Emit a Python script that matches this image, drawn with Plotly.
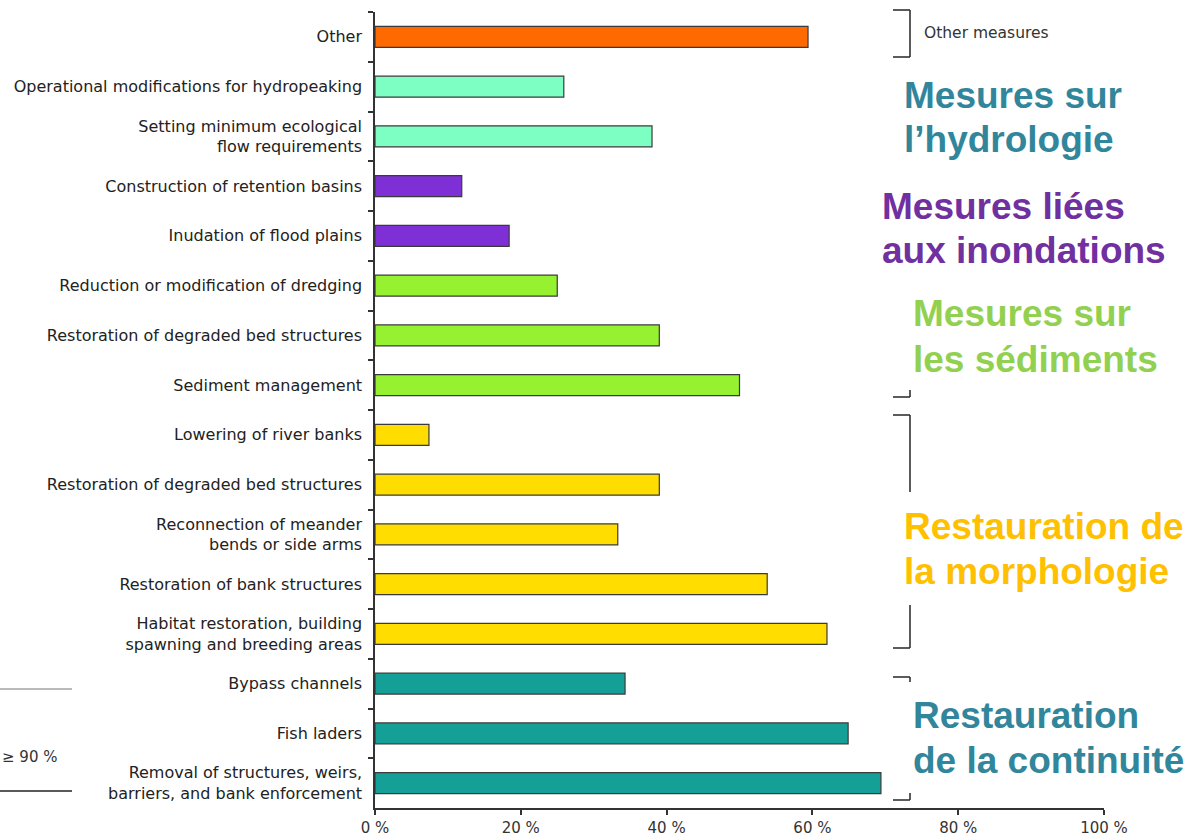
import plotly.graph_objects as go

# ---------------- data ----------------
categories = [
    "Other",
    "Operational modifications for hydropeaking",
    "Setting minimum ecological<br>flow requirements",
    "Construction of retention basins",
    "Inudation of flood plains",
    "Reduction or modification of dredging",
    "Restoration of degraded bed structures",
    "Sediment management",
    "Lowering of river banks",
    "Restoration of degraded bed structures\u200b",
    "Reconnection of meander<br>bends or side arms",
    "Restoration of bank structures",
    "Habitat restoration, building<br>spawning and breeding areas",
    "Bypass channels",
    "Fish laders",
    "Removal of structures, weirs,<br>barriers, and bank enforcement",
]
values = [59.4, 25.9, 38.0, 11.9, 18.4, 25.0, 39.0, 50.0, 7.4, 39.0, 33.3, 53.8, 62.0, 34.3, 64.9, 69.4]
groups = ["other", "hydro", "hydro", "flood", "flood", "sed", "sed", "sed",
          "morph", "morph", "morph", "morph", "morph", "cont", "cont", "cont"]
group_colors = {
    "other": "#FF6A00",
    "hydro": "#7DFFC3",
    "flood": "#7F2FD6",
    "sed": "#96F230",
    "morph": "#FFDD00",
    "cont": "#15A097",
}
x_tickvals = [0, 20, 40, 60, 80, 100]
x_ticktext = ["0 %", "20 %", "40 %", "60 %", "80 %", "100 %"]

# (line text, colour, left pixel, cap-centre pixel)
group_label_lines = [
    ("Mesures sur", "#31869B", 902, 95),
    ("l\u2019hydrologie", "#31869B", 902, 139),
    ("Mesures liées", "#7030A0", 880, 206),
    ("aux inondations", "#7030A0", 880, 250),
    ("Mesures sur", "#92D050", 911, 314),
    ("les sédiments", "#92D050", 911, 359),
    ("Restauration de", "#FFC000", 902, 526),
    ("la morphologie", "#FFC000", 902, 571),
    ("Restauration", "#31869B", 911, 715),
    ("de la continuité", "#31869B", 911, 760),
]

# ---------------- layout helpers ----------------
W, H = 1200, 840
L, R, T, B = 375, 96, 12, 32
PW, PH = W - L - R, H - T - B


def px(x):
    return (x - L) / PW


def py(y):
    return 1 - (y - T) / PH


fig = go.Figure()
fig.add_trace(go.Bar(
    x=values,
    y=categories,
    orientation="h",
    width=0.42,
    marker=dict(color=[group_colors[g] for g in groups],
                line=dict(color="#3a3a3a", width=1.2)),
    showlegend=False,
    hoverinfo="x+y",
))

shapes = []


def seg(x0, y0, x1, y1, color="#333333", w=1.6):
    shapes.append(dict(type="line", xref="paper", yref="paper",
                       x0=px(x0), y0=py(y0), x1=px(x1), y1=py(y1),
                       line=dict(color=color, width=w)))


# Other measures bracket
seg(893, 10, 910, 10); seg(910, 10, 910, 57); seg(893, 57, 910, 57)
# sediments bracket bottom end
seg(910, 390, 910, 397); seg(893, 397, 910, 397)
# morphology bracket
seg(893, 415, 910, 415); seg(910, 415, 910, 492)
seg(910, 605, 910, 648); seg(893, 648, 910, 648)
# continuity bracket
seg(893, 677, 910, 677); seg(910, 677, 910, 682)
seg(910, 793, 910, 800); seg(893, 800, 910, 800)
# left legend fragment lines
seg(0, 689, 72, 689, color="#777777", w=1)
seg(0, 791, 72, 791, color="#222222", w=1.3)

annotations = [
    dict(text="Other measures", xref="paper", yref="paper", x=px(922), y=py(33),
         xanchor="left", yanchor="middle", showarrow=False,
         font=dict(family="DejaVu Sans", size=15.5, color="#333333")),
    dict(text="\u2265 90 %", xref="paper", yref="paper", x=px(0), y=py(757),
         xanchor="left", yanchor="middle", showarrow=False,
         font=dict(family="DejaVu Sans", size=15, color="#333333")),
]
for text, color, x0, yc in group_label_lines:
    annotations.append(dict(
        text="<b>" + text + "</b>", xref="paper", yref="paper",
        x=px(x0), y=py(yc), xanchor="left", yanchor="middle", align="left",
        showarrow=False,
        font=dict(family="Liberation Sans, Arial", size=37, color=color)))

fig.update_layout(
    width=W, height=H,
    margin=dict(l=L, r=R, t=T, b=B, autoexpand=False),
    paper_bgcolor="white", plot_bgcolor="white",
    shapes=shapes, annotations=annotations,
    xaxis=dict(range=[0, 100], tickvals=x_tickvals, ticktext=x_ticktext,
               showgrid=False, zeroline=False, showline=True, automargin=False,
               linecolor="#333333", linewidth=1.5, ticks="outside",
               ticklen=5, tickwidth=1.5, tickcolor="#333333",
               ticklabelstandoff=0,
               tickfont=dict(family="DejaVu Sans", size=15, color="#333333")),
    yaxis=dict(type="category", categoryorder="array", categoryarray=categories,
               range=[15.5, -0.5], tickson="boundaries", automargin=False,
               showgrid=False, zeroline=False, showline=True,
               linecolor="#333333", linewidth=1.5, ticks="outside",
               ticklen=5, tickwidth=1.5, tickcolor="#333333",
               ticklabelstandoff=8,
               tickfont=dict(family="DejaVu Sans", size=16, color="#222222")),
)

fig.write_html("out.html", config={"displayModeBar": False},
               post_script="document.body.style.margin='0';document.body.style.padding='0';")
